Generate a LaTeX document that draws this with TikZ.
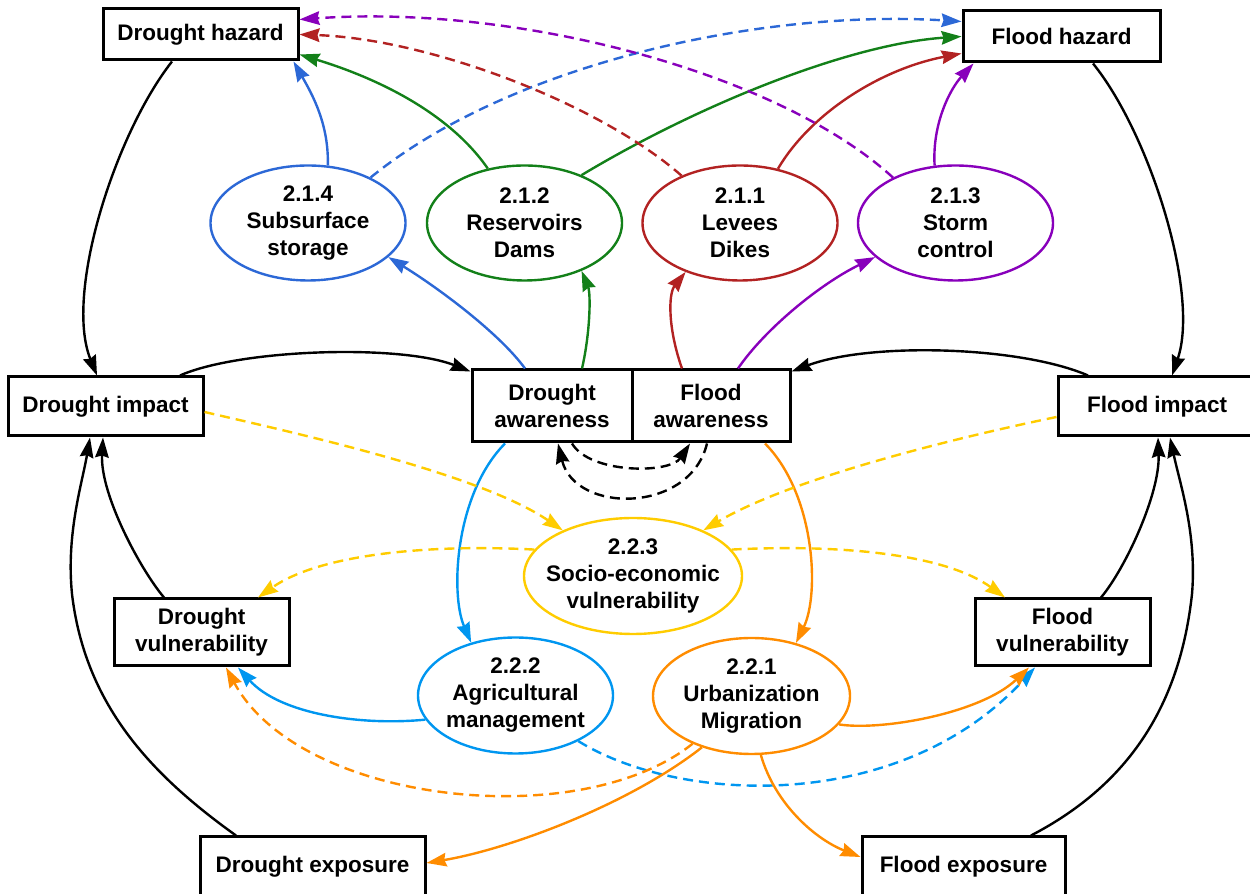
\documentclass[tikz,border=0pt]{standalone}
\usepackage{fontspec}
\setmainfont{Liberation Sans}
\usetikzlibrary{arrows.meta,shapes.geometric}
\definecolor{cblue}{RGB}{44,104,214}
\definecolor{cgreen}{RGB}{19,128,25}
\definecolor{cred}{RGB}{178,34,34}
\definecolor{cpurple}{RGB}{136,0,187}
\definecolor{cyellow}{RGB}{255,204,0}
\definecolor{clblue}{RGB}{0,150,240}
\definecolor{corange}{RGB}{255,140,0}
\begin{document}
\begin{tikzpicture}[x=1pt,y=1pt,
  txt/.style={font=\fontsize{22.5}{27}\selectfont\bfseries, align=center, inner sep=0pt},
  box/.style={txt, draw, line width=3pt, fill=white, rectangle},
  ell/.style={ellipse, draw, line width=2.4pt, inner sep=0pt, minimum width=195pt, minimum height=115pt},
  con/.style={line width=2.4pt, -{Stealth[length=20pt,width=13.5pt,inset=2pt]}},
  dsh/.style={dash pattern=on 10pt off 6pt}
]
\useasboundingbox (0,0) rectangle (1250,894);

% boxes
\node[box, minimum width=195pt, minimum height=51pt] (DH) at (200.5,859.5) {Drought hazard};
\node[box, minimum width=197pt, minimum height=51pt] (FH) at (1061.5,857.5) {Flood hazard};
\node[box, minimum width=195pt, minimum height=59pt] (DI) at (105.5,487.5) {Drought impact};
\node[box, minimum width=198pt, minimum height=59pt] (FI) at (1157,487.5) {Flood impact};
\node[box, minimum width=160pt, minimum height=72pt] (DA) at (552,488) {Drought\\awareness};
\node[box, minimum width=158pt, minimum height=72pt] (FA) at (711,488) {Flood\\awareness};
\node[box, minimum width=175pt, minimum height=67pt] (DV) at (201.5,261.5) {Drought\\vulnerability};
\node[box, minimum width=175pt, minimum height=67pt] (FV) at (1062.5,261.5) {Flood\\vulnerability};
\node[box, minimum width=225pt, minimum height=60pt] (DE) at (312.5,27) {Drought exposure};
\node[box, minimum width=203pt, minimum height=60pt] (FE) at (963.5,27) {Flood exposure};

% ellipses
\node[ell, cblue] (E214) at (308,671) {};
\node[ell, cgreen] (E212) at (524.5,671) {};
\node[ell, cred] (E211) at (740,671) {};
\node[ell, cpurple] (E213) at (955.5,671) {};
\node[ell, cyellow, minimum width=218pt, minimum height=116pt] (E223) at (633,318) {};
\node[ell, clblue, minimum height=116pt] (E222) at (515.5,198.5) {};
\node[ell, corange, minimum width=197pt, minimum height=116pt] (E221) at (751.5,198) {};

\node[txt] (T214) at (E214) {2.1.4\\Subsurface\\storage};
\node[txt] (T212) at (E212) {2.1.2\\Reservoirs\\Dams};
\node[txt] (T211) at (E211) {2.1.1\\Levees\\Dikes};
\node[txt] (T213) at (E213) {2.1.3\\Storm\\control};
\node[txt] (T223) at (E223) {2.2.3\\Socio-economic\\vulnerability};
\node[txt] (T222) at (E222) {2.2.2\\Agricultural\\management};
\node[txt] (T221) at (E221) {2.2.1\\Urbanization\\Migration};

% hazards -> impacts
\draw[con] ([xshift=-28.5pt]DH.south) .. controls (115,760) and (64,600) .. ([xshift=-8.5pt]DI.north);
\draw[con] ([xshift=31.5pt]FH.south) .. controls (1150,760) and (1200,600) .. ([xshift=15pt]FI.north);

% impacts -> awareness
\draw[con] ([xshift=74.5pt]DI.north) .. controls (240,545) and (400,550) .. ([yshift=-3pt]DA.north west);
\draw[con] ([xshift=-69pt]FI.north) .. controls (1020,548) and (870,552) .. ([yshift=-3pt]FA.north east);

% exposure / vulnerability -> impacts
\draw[con] ([xshift=-76.5pt]DE.north) .. controls (150,120) and (85,190) .. (72,300) .. controls (66,360) and (82,410) .. ([xshift=-15.5pt]DI.south);
\draw[con] ([xshift=-37.5pt]DV.north) .. controls (140,325) and (100,400) .. ([xshift=-2.5pt]DI.south);
\draw[con] ([xshift=38.5pt]FV.north) .. controls (1125,325) and (1160,400) .. ([xshift=1pt]FI.south);
\draw[con] ([xshift=67.5pt]FE.north) .. controls (1130,110) and (1180,190) .. (1192,300) .. controls (1197,360) and (1180,410) .. ([xshift=13pt]FI.south);

% measures -> hazards
\draw[con,cblue] (E214.71) .. controls (329,770) and (312,800) .. ([xshift=93pt]DH.south);
\draw[con,cblue,dsh] (E214.36) .. controls (510,830) and (760,885) .. ([yshift=-12pt]FH.north west);
\draw[con,cgreen] (E212.124) .. controls (450,780) and (380,815) .. ([yshift=7pt]DH.south east);
\draw[con,cgreen] (E212.40) .. controls (700,790) and (850,850) .. (FH.west);
\draw[con,cred,dsh] (E211.141) .. controls (600,790) and (430,855) .. (DH.east);
\draw[con,cred] (E211.55) .. controls (810,780) and (880,825) .. ([yshift=10pt]FH.south west);
\draw[con,cpurple] (E213.110) .. controls (932,770) and (950,805) .. ([xshift=-88pt]FH.south);
\draw[con,cpurple,dsh] (E213.144) .. controls (780,820) and (520,890) .. ([yshift=-12pt]DH.north east);

% awareness -> measures
\draw[con,cblue] ([xshift=-27pt]DA.north) .. controls (500,560) and (440,605) .. (E214.-23);
\draw[con,cgreen] ([xshift=30pt]DA.north) .. controls (590,560) and (591,600) .. (E212.-40);
\draw[con,cred] ([xshift=-29pt]FA.north) .. controls (668,565) and (668,600) .. (E211.-138);
\draw[con,cpurple] ([xshift=27pt]FA.north) .. controls (765,565) and (820,610) .. (E213.-157);

% awareness feedback
\draw[con,dsh] ([xshift=20pt]DA.south) .. controls (590,420) and (670,420) .. ([xshift=-21pt]FA.south);
\draw[con,dsh] ([xshift=-4pt]FA.south) .. controls (690,380) and (575,380) .. ([xshift=6pt]DA.south);

% awareness -> vulnerability measures
\draw[con,clblue] ([xshift=-47pt]DA.south) .. controls (455,400) and (450,300) .. (E222.130);
\draw[con,corange] ([xshift=54pt]FA.south) .. controls (815,400) and (820,300) .. (E221.50);

% impacts -> socio-economic vulnerability -> vulnerabilities
\draw[con,cyellow,dsh] ([yshift=-5.5pt]DI.east) .. controls (300,460) and (480,420) .. (E223.147);
\draw[con,cyellow,dsh] ([yshift=-10.5pt]FI.west) .. controls (950,455) and (790,415) .. (E223.33);
\draw[con,cyellow,dsh] (E223.165) .. controls (430,350) and (320,340) .. ([xshift=56.5pt]DV.north);
\draw[con,cyellow,dsh] (E223.15) .. controls (840,350) and (945,340) .. ([xshift=-57.5pt]FV.north);

% vulnerability measures -> vulnerability / exposure
\draw[con,clblue] (E222.-165) .. controls (360,168) and (280,180) .. ([xshift=36.5pt]DV.south);
\draw[con,clblue,dsh] (E222.-36) .. controls (680,90) and (900,80) .. ([xshift=-27.5pt]FV.south);
\draw[con,corange] (E221.-18) .. controls (880,163) and (980,180) .. ([xshift=-33.5pt]FV.south);
\draw[con,corange,dsh] (E221.-141) .. controls (580,60) and (300,90) .. ([xshift=24.5pt]DV.south);
\draw[con,corange] (E221.-134) .. controls (630,90) and (510,45) .. ([yshift=4pt]DE.east);
\draw[con,corange] (E221.-81) .. controls (775,90) and (815,55) .. ([yshift=10pt]FE.west);
\end{tikzpicture}
\end{document}
